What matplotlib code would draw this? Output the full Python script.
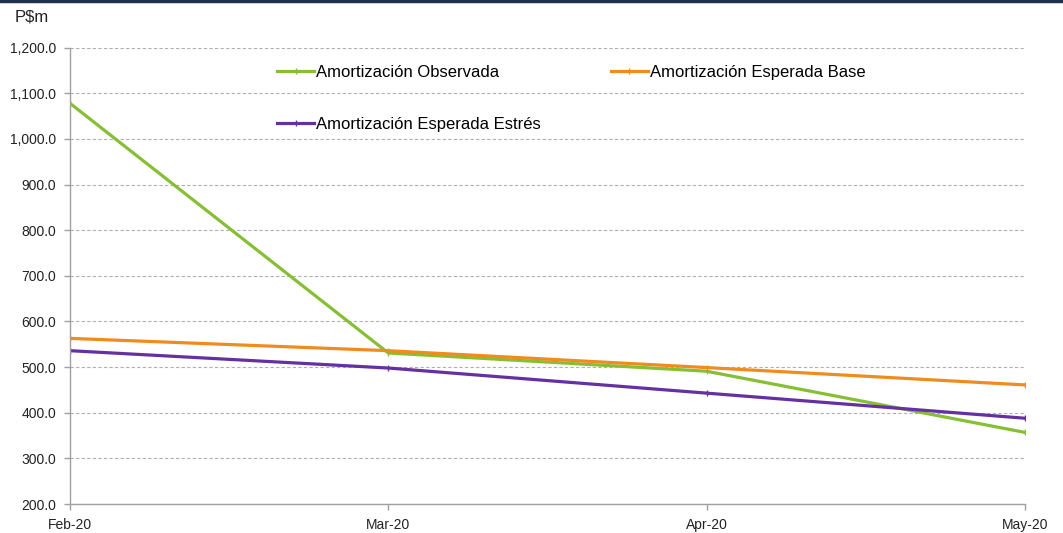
import matplotlib
matplotlib.use("Agg")
import matplotlib.pyplot as plt
from matplotlib.lines import Line2D

months = ["Feb-20", "Mar-20", "Apr-20", "May-20"]
observada = [1078, 531, 491, 357]
base = [563, 536, 499, 461]
estres = [536, 498, 443, 388]
yticks = [200, 300, 400, 500, 600, 700, 800, 900, 1000, 1100, 1200]

plt.rcParams['font.family'] = ['Liberation Sans', 'DejaVu Sans']

fig = plt.figure(figsize=(10.63, 5.33), dpi=100)
ax = fig.add_axes([0.0659, 0.0544, 0.8981, 0.8561])

x = list(range(len(months)))
c_obs = '#86BF35'
c_base = '#F08C1E'
c_est = '#6530A0'
lo, = ax.plot(x, observada, color=c_obs, lw=2.3, marker='|', ms=5, mew=1, label='Amortización Observada')
lb, = ax.plot(x, base, color=c_base, lw=2.3, marker='|', ms=5, mew=1, label='Amortización Esperada Base')
le, = ax.plot(x, estres, color=c_est, lw=2.3, marker='|', ms=5, mew=1, label='Amortización Esperada Estrés')

ax.set_xlim(0, 3)
ax.set_ylim(200, 1200)
ax.set_xticks(x)
ax.set_xticklabels(months)
ax.set_yticks(yticks)
ax.set_yticklabels([f"{v:,.1f}" for v in yticks])
ax.yaxis.grid(True, linestyle=(0, (3, 2)), color='#B0B0B0', lw=0.8)
ax.set_axisbelow(True)
for s in ['top', 'right']:
    ax.spines[s].set_visible(False)
for s in ['left', 'bottom']:
    ax.spines[s].set_color('#A0A0A0')
    ax.spines[s].set_linewidth(1.0)
ax.tick_params(axis='both', colors='#A0A0A0', length=4, width=1, labelcolor='#222222', labelsize=10)
ax.tick_params(axis='x', pad=6)
ax.tick_params(axis='y', pad=6)

ax.legend(handles=[lo, le, lb], ncol=2, loc='upper left', bbox_to_anchor=(0.217, 0.962),
          frameon=False, fontsize=12, handlelength=2.2, handletextpad=0.15,
          labelspacing=2.2, columnspacing=4.2, borderaxespad=0, borderpad=0)

fig.text(0.014, 0.968, 'P$m', fontsize=12, color='#222222', va='center', ha='left')
fig.add_artist(Line2D([0, 1], [0.998, 0.998], color='#1F3050', lw=2.5, transform=fig.transFigure))

fig.savefig('out.png', dpi=100)
